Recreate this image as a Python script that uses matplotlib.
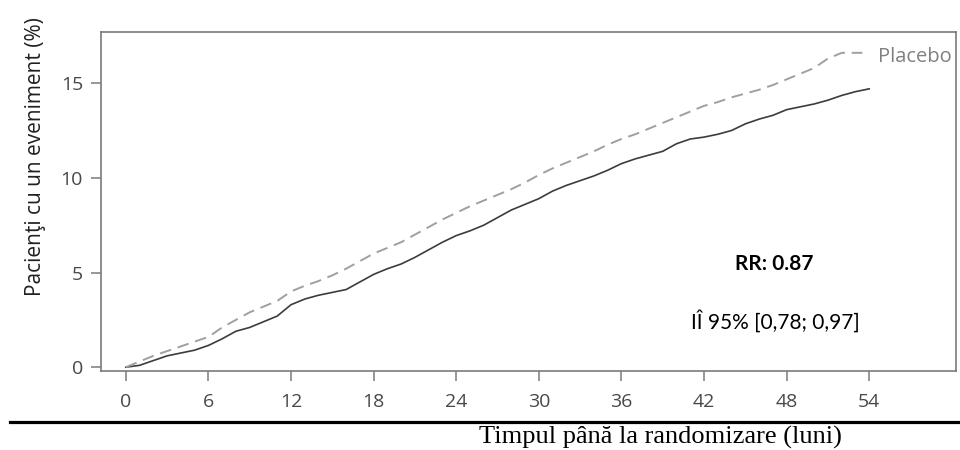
import numpy as np
import matplotlib
matplotlib.use("Agg")
import matplotlib.pyplot as plt
from matplotlib.lines import Line2D

# luni si procente
t_trat = [0, 1, 2, 3, 4, 5, 6, 7, 8, 9, 10, 11, 12, 13, 14, 15, 16, 17, 18, 19,
          20, 21, 22, 23, 24, 25, 26, 27, 28, 29, 30, 31, 32, 33, 34, 35, 36, 37,
          38, 39, 40, 41, 42, 43, 44, 45, 46, 47, 48, 49, 50, 51, 52, 53, 54]
y_trat = [0, 0.1, 0.35, 0.6, 0.75, 0.9, 1.15, 1.5, 1.9, 2.1, 2.4, 2.7, 3.3, 3.6,
          3.8, 3.95, 4.1, 4.5, 4.9, 5.2, 5.45, 5.8, 6.2, 6.6, 6.95, 7.2, 7.5, 7.9,
          8.3, 8.6, 8.9, 9.3, 9.6, 9.85, 10.1, 10.4, 10.75, 11.0, 11.2, 11.4, 11.8,
          12.05, 12.15, 12.3, 12.5, 12.85, 13.1, 13.3, 13.6, 13.75, 13.9, 14.1,
          14.35, 14.55, 14.7]

t_plac = [0, 1, 2, 3, 4, 5, 6, 7, 8, 9, 10, 11, 12, 13, 14, 15, 16, 17, 18, 19,
          20, 21, 22, 23, 24, 25, 26, 27, 28, 29, 30, 31, 32, 33, 34, 35, 36, 37,
          38, 39, 40, 41, 42, 43, 44, 45, 46, 47, 48, 49, 50, 51, 52, 53.5]
y_plac = [0, 0.3, 0.6, 0.85, 1.1, 1.35, 1.6, 2.1, 2.5, 2.9, 3.2, 3.5, 4.0, 4.3,
          4.55, 4.85, 5.2, 5.6, 6.0, 6.3, 6.6, 7.0, 7.4, 7.8, 8.15, 8.5, 8.8, 9.1,
          9.4, 9.75, 10.15, 10.5, 10.8, 11.1, 11.4, 11.75, 12.05, 12.3, 12.6, 12.9,
          13.2, 13.5, 13.8, 14.0, 14.25, 14.45, 14.65, 14.9, 15.2, 15.5, 15.8,
          16.3, 16.6, 16.6]

xticks = [0, 6, 12, 18, 24, 30, 36, 42, 48, 54]
yticks = [0, 5, 10, 15]

sans = ['Open Sans', 'DejaVu Sans']
gri_ax = '#7a7a7a'

fig = plt.figure(figsize=(9.6, 4.5), dpi=100)
ax = fig.add_axes([101/960, 79/450, 855/960, 339/450])

ax.plot(t_trat, y_trat, color='#3c3c3c', lw=1.2)
ax.plot(t_plac, y_plac, color='#a0a0a0', lw=1.4, linestyle=(0, (6, 3.5)))

ax.set_xlim(-1.8, 60.3)
ax.set_ylim(-0.2, 17.7)
ax.set_xticks(xticks)
ax.set_yticks(yticks)
for s in ax.spines.values():
    s.set_color(gri_ax)
    s.set_linewidth(1.2)
ax.tick_params(direction='out', length=7, width=1.1, color=gri_ax,
               labelcolor='#484848', labelsize=14)
ax.tick_params(axis='x', pad=9)
ax.tick_params(axis='y', pad=6)
for lab in ax.get_xticklabels() + ax.get_yticklabels():
    lab.set_family(sans)

ax.set_ylabel('Pacienţi cu un eveniment (%)', family=sans, fontsize=15,
              color='#202020')
ax.yaxis.set_label_coords(-0.064, 0.634)

ax.text(54.6, 16.4, 'Placebo', family=sans, fontsize=14.5, color='#808080',
        va='center', ha='left')
ax.text(47.1, 5.46, 'RR: 0.87', family=['Lato', 'DejaVu Sans'],
        fontsize=15, fontweight='bold', ha='center', va='center')
ax.text(47.2, 2.44, 'IÎ 95% [0,78; 0,97]', family=['Lato', 'DejaVu Sans'],
        fontsize=15, ha='center', va='center')

# linia neagra de sub axa si titlul axei x
fig.add_artist(Line2D([10/960, 958/960], [1 - 422/450, 1 - 422/450],
                      color='black', lw=2.3))
fig.text(660/960, 1 - 444/450, 'Timpul până la randomizare (luni)',
         family=['Liberation Serif', 'DejaVu Serif'], fontsize=19,
         ha='center', va='baseline')

fig.savefig('out.png', dpi=100)
